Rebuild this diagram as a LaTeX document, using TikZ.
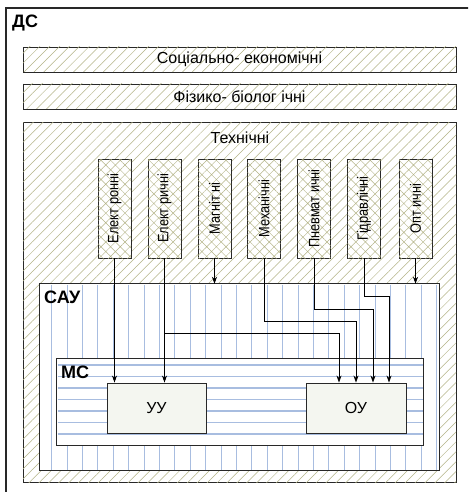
\documentclass[tikz,border=0pt]{standalone}
\usepackage{fontspec}
\setmainfont{Liberation Sans}
\usetikzlibrary{patterns.meta,arrows.meta,calc}
\definecolor{hatchc}{RGB}{180,180,135}
\definecolor{bluel}{RGB}{168,189,224}
\definecolor{boxfill}{RGB}{244,246,240}
\definecolor{edge}{RGB}{40,40,40}
\begin{document}
\begin{tikzpicture}[x=1pt,y=-1pt,
  box/.style={draw=edge,line width=0.9pt,inner sep=0pt,anchor=center},
  hatchbox/.style={box,fill=white,postaction={pattern={Lines[angle=45,distance=7pt,line width=0.5pt]},pattern color=hatchc}},
  crossbox/.style={box,fill=white,minimum width=33pt,minimum height=99pt,postaction={pattern={Hatch[angle=45,distance=6.8pt,line width=0.45pt]},pattern color=hatchc}},
  lbl/.style={font=\fontsize{16}{18}\selectfont},
  vlbl/.style={font=\fontsize{15}{17}\selectfont},
  big/.style={font=\fontsize{18}{20}\selectfont\bfseries,inner sep=0pt,anchor=west},
  plain/.style={inner sep=0pt,anchor=center,draw=none},
  frame/.style={draw=edge,line width=0.9pt},
  arr/.style={draw=black,line width=0.8pt,-{Stealth[length=7pt,width=5pt]}}
]
\useasboundingbox (0,0) rectangle (468,492);
\clip (0,0) rectangle (468,492);
% outer DS frame
\draw[draw=edge,line width=1.3pt,fill=white] (6,8) rectangle (475,500);
\node[big] (ds) at (12,23) {ДС};
% top boxes
\node[hatchbox,minimum width=433pt,minimum height=25pt,lbl] (soc) at (239.5,59.5) {Соціально- економічні};
\node[hatchbox,minimum width=433pt,minimum height=25pt,lbl] (fiz) at (239.5,96.5) {Фізико- біолог ічні};
\node[hatchbox,minimum width=433pt,minimum height=360pt] (tech) at (239.5,302) {};
\node[lbl,inner sep=0pt] (techl) at (240,138) {Технічні};
% vertical boxes
\node[crossbox,vlbl] (n1) at (114.5,208.5) {\rotatebox{90}{\scalebox{0.85}[1]{Елект ронні}}};
\node[crossbox,vlbl] (n2) at (164.5,208.5) {\rotatebox{90}{\scalebox{0.85}[1]{Елект ричні}}};
\node[crossbox,vlbl] (n3) at (214.5,208.5) {\rotatebox{90}{\scalebox{0.85}[1]{Магніт ні}}};
\node[crossbox,vlbl] (n4) at (264,208.5) {\rotatebox{90}{\scalebox{0.85}[1]{Механічні}}};
\node[crossbox,vlbl] (n5) at (314,208.5) {\rotatebox{90}{\scalebox{0.85}[1]{Пневмат ичні}}};
\node[crossbox,vlbl] (n6) at (364,208.5) {\rotatebox{90}{\scalebox{0.85}[1]{Гідравлічні}}};
\node[crossbox,vlbl] (n7) at (415.5,208.5) {\rotatebox{90}{\scalebox{0.85}[1]{Опт ичні}}};
% SAU
\node[plain,fill=white,minimum width=399pt,minimum height=186pt] (sau) at (239.5,377) {};
\foreach \i in {0,...,25}
  \draw[bluel,line width=1.1pt] (51.7+15.4*\i,284.5) -- (51.7+15.4*\i,469.5);
\draw[frame] (sau.north west) rectangle (sau.south east);
\node[big] (saul) at (44,297) {САУ};
% MC
\node[plain,fill=white,minimum width=366pt,minimum height=86pt] (mc) at (240,402) {};
\foreach \j in {0,...,6}
  \draw[bluel,line width=1.1pt] (57.5,365+11.5*\j) -- (422.5,365+11.5*\j);
\draw[frame] (mc.north west) rectangle (mc.south east);
\node[big] (mcl) at (61,372) {МС};
% UU, OU
\node[box,fill=boxfill,minimum width=99pt,minimum height=50pt,lbl] (uu) at (156.5,408) {УУ};
\node[box,fill=boxfill,minimum width=100pt,minimum height=50pt,lbl] (ou) at (356,408) {ОУ};
% turning points
\coordinate (t2) at (339,333);
\coordinate (t4) at (356,321);
\coordinate (t5) at (373,309);
\coordinate (t6) at (389,296);
% connectors
\draw[arr] (n1.south) -- (n1.south |- uu.north);
\draw[arr] (n2.south) -- (n2.south |- uu.north);
\draw[arr] (n2.south |- t2) -- (t2) -- (t2 |- ou.north);
\draw[arr] (n3.south) -- (n3.south |- sau.north);
\draw[arr] (n4.south) |- (t4) -- (t4 |- ou.north);
\draw[arr] (n5.south) |- (t5) -- (t5 |- ou.north);
\draw[arr] (n6.south) |- (t6) -- (t6 |- ou.north);
\draw[arr] (n7.south) -- (n7.south |- sau.north);
\end{tikzpicture}
\end{document}
